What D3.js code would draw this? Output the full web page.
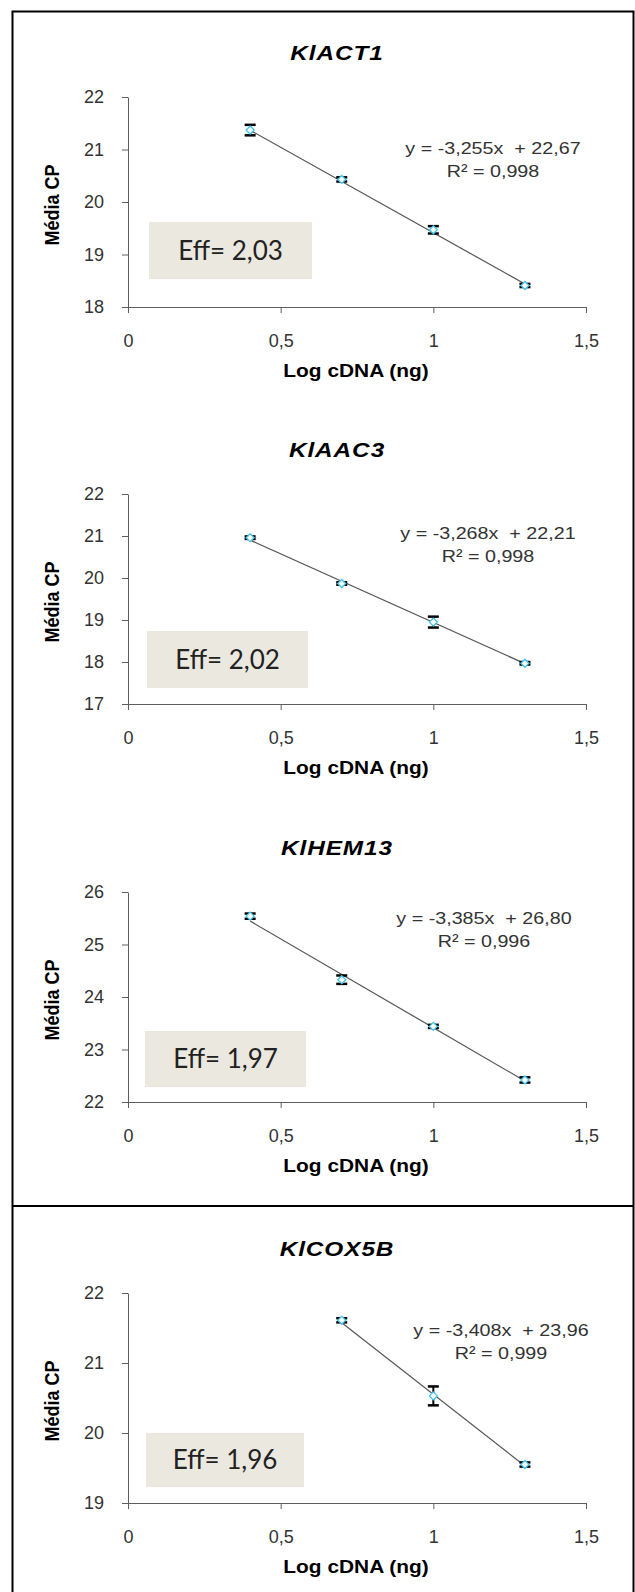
<!DOCTYPE html>
<html>
<head>
<meta charset="utf-8">
<script src="https://cdn.jsdelivr.net/npm/d3@7"></script>
<style>
  body { margin: 0; background: #fff; }
  text { font-family: "Liberation Sans", Arial, sans-serif; white-space: pre; }
</style>
</head>
<body>
<div id="chart"></div>
<script>
// chart data
var genes = ["KlACT1", "KlAAC3", "KlHEM13", "KlCOX5B"];
var logCdna = [[0.4, 0.7, 1, 1.3], [0.4, 0.7, 1, 1.3], [0.4, 0.7, 1, 1.3], [0.7, 1, 1.3]];
var meanCp = [[21.37, 20.43, 19.47, 18.41], [20.96, 19.87, 18.95, 17.97], [25.54, 24.33, 23.44, 22.42], [21.61, 20.53, 19.55]];
var cpError = [[0.1, 0.04, 0.07, 0.03], [0.03, 0.03, 0.13, 0.03], [0.05, 0.08, 0.03, 0.05], [0.03, 0.135, 0.03]];
var slopes = [-3.255, -3.268, -3.385, -3.408];
var intercepts = [22.67, 22.21, 26.80, 23.96];
var equationLabels = ["y = -3,255x  + 22,67", "y = -3,268x  + 22,21", "y = -3,385x  + 26,80", "y = -3,408x  + 23,96"];
var r2Labels = ["R² = 0,998", "R² = 0,998", "R² = 0,996", "R² = 0,999"];
var effLabels = ["Eff= 2,03", "Eff= 2,02", "Eff= 1,97", "Eff= 1,96"];
var yDomains = [[18, 22], [17, 22], [22, 26], [19, 22]];
var xTicks = [0, 0.5, 1, 1.5];

// where each panel sits on the page
var layout = [
    {top: 97,   eff: [149, 222, 163, 57], eq: [493, 148]},
    {top: 494,  eff: [147, 631, 161, 57], eq: [488, 533]},
    {top: 892,  eff: [145, 1031, 161, 56], eq: [484, 918]},
    {top: 1293, eff: [146, 1433, 158, 54], eq: [501, 1330]}
];

var W = 635, H = 1592;
var plotLeft = 128, plotRight = 586, plotH = 210;
var stretch = 1.16;   // the source picture is a little wider than tall
var comma = function (d) { return String(d).replace(".", ","); };

var svg = d3.select("#chart").append("svg")
    .attr("width", W)
    .attr("height", H);

// horizontal text, widened like the source
function wideText(parent, cx, cy, str) {
    return parent.append("text")
        .attr("transform", "translate(" + cx + "," + cy + ") scale(" + stretch + ",1)")
        .attr("dy", "0.35em")
        .attr("text-anchor", "middle")
        .text(str);
}

// outer frame and divider
svg.append("path")
    .attr("d", "M12.5," + (H + 2) + "V11.5H633.5V" + (H + 2))
    .attr("fill", "none")
    .attr("stroke", "#000")
    .attr("stroke-width", 2);
svg.append("line")
    .attr("x1", 12.5).attr("x2", 633.5)
    .attr("y1", 1206).attr("y2", 1206)
    .attr("stroke", "#000")
    .attr("stroke-width", 2);

var x = d3.scaleLinear().domain([0, 1.5]).range([plotLeft, plotRight]);

genes.forEach(function (gene, i) {
    var lay = layout[i];
    var top = lay.top, bottom = top + plotH;
    var y = d3.scaleLinear().domain(yDomains[i]).range([bottom, top]);
    var g = svg.append("g");

    // efficiency box
    g.append("rect")
        .attr("x", lay.eff[0]).attr("y", lay.eff[1])
        .attr("width", lay.eff[2]).attr("height", lay.eff[3])
        .attr("fill", "#ebe8df");
    g.append("text")
        .attr("x", lay.eff[0] + lay.eff[2] / 2)
        .attr("y", lay.eff[1] + lay.eff[3] / 2)
        .attr("dy", "0.35em")
        .attr("text-anchor", "middle")
        .style("font-family", "Lato, 'Open Sans', sans-serif")
        .style("font-size", "26px")
        .attr("fill", "#222")
        .text(effLabels[i]);

    // axes
    var yAxis = g.append("g")
        .attr("transform", "translate(" + plotLeft + ",0)")
        .call(d3.axisLeft(y).ticks(yDomains[i][1] - yDomains[i][0]).tickFormat(d3.format("d"))
            .tickSize(6).tickSizeOuter(0).tickPadding(18));
    var xAxis = g.append("g")
        .attr("transform", "translate(0," + bottom + ")")
        .call(d3.axisBottom(x).tickValues(xTicks).tickFormat(comma)
            .tickSize(6).tickSizeOuter(0).tickPadding(21));
    [yAxis, xAxis].forEach(function (a) {
        a.select(".domain").attr("stroke", "#5e5e5e");
        a.selectAll(".tick line").attr("stroke", "#5e5e5e");
        a.selectAll(".tick text")
            .attr("fill", "#333")
            .style("font-size", "18px")
            .style("font-family", "'Liberation Sans', Arial, sans-serif");
    });

    // titles
    wideText(g, 337, top - 44, gene)
        .style("font-size", "21px")
        .style("font-weight", "bold")
        .style("font-style", "italic")
        .style("letter-spacing", "0.8px");
    wideText(g, 356, bottom + 64, "Log cDNA (ng)")
        .style("font-size", "18px")
        .style("font-weight", "bold");
    g.append("text")
        .attr("transform", "translate(52," + (top + plotH / 2 + 3) + ") rotate(-90) scale(1," + stretch + ")")
        .attr("dy", "0.35em")
        .attr("text-anchor", "middle")
        .style("font-size", "18px")
        .style("font-weight", "bold")
        .text("Média CP");

    // trend line
    var xs = logCdna[i];
    var ends = [xs[0], xs[xs.length - 1]];
    g.append("path")
        .datum(ends)
        .attr("fill", "none")
        .attr("stroke", "#555")
        .attr("stroke-width", 1.2)
        .attr("d", d3.line()
            .x(function (d) { return x(d); })
            .y(function (d) { return y(slopes[i] * d + intercepts[i]); }));

    // error bars
    var pts = xs.map(function (v, k) { return {x: v, y: meanCp[i][k], e: cpError[i][k]}; });
    var eb = g.selectAll(".eb").data(pts).enter().append("g");
    eb.append("line")
        .attr("x1", function (d) { return x(d.x); })
        .attr("x2", function (d) { return x(d.x); })
        .attr("y1", function (d) { return y(d.y + d.e); })
        .attr("y2", function (d) { return y(d.y - d.e); })
        .attr("stroke", "#000").attr("stroke-width", 2);
    [1, -1].forEach(function (s) {
        eb.append("line")
            .attr("x1", function (d) { return x(d.x) - 5.5; })
            .attr("x2", function (d) { return x(d.x) + 5.5; })
            .attr("y1", function (d) { return y(d.y + s * d.e); })
            .attr("y2", function (d) { return y(d.y + s * d.e); })
            .attr("stroke", "#000").attr("stroke-width", 2.5);
    });

    // markers
    g.selectAll(".pt").data(pts).enter().append("path")
        .attr("transform", function (d) { return "translate(" + x(d.x) + "," + y(d.y) + ")"; })
        .attr("d", "M0,-4L4,0L0,4L-4,0Z")
        .attr("fill", "#fff")
        .attr("stroke", "#3cc4f0")
        .attr("stroke-width", 1.3);

    // equation labels
    wideText(g, lay.eq[0], lay.eq[1], equationLabels[i])
        .attr("fill", "#333")
        .style("font-size", "17px");
    wideText(g, lay.eq[0], lay.eq[1] + 23, r2Labels[i])
        .attr("fill", "#333")
        .style("font-size", "17px");
});
</script>
</body>
</html>
